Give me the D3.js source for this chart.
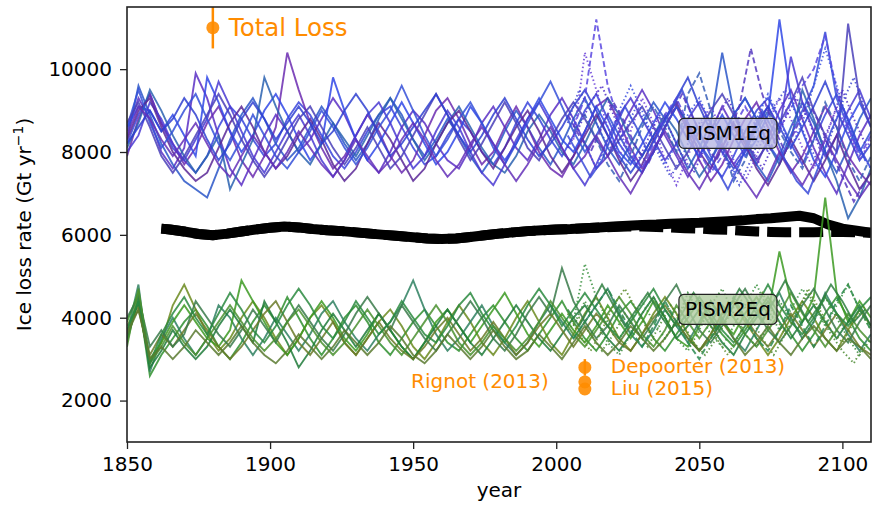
<!DOCTYPE html>
<html>
<head>
<meta charset="utf-8">
<script src="https://cdn.jsdelivr.net/npm/d3@7"></script>
<style>
  body { margin:0; background:#fff; }
  svg { display:block; font-family:"DejaVu Sans", sans-serif; }
</style>
</head>
<body>
<svg id="chart"></svg>
<script>
// ---------- DATA ---------------------------------------------------------
const YEARS = [1850,1854,1858,1862,1866,1870,1874,1878,1882,1886,1890,1894,1898,1902,1906,1910,1914,1918,1922,1926,
  1930,1934,1938,1942,1946,1950,1954,1958,1962,1966,1970,1974,1978,1982,1986,1990,1994,1998,2002,2006,
  2010,2014,2018,2022,2026,2030,2034,2038,2042,2046,2050,2054,2058,2062,2066,2070,2074,2078,2082,2086,
  2090,2094,2098,2102,2106,2110];
const LATE_YEARS = [2006,2010,2014,2018,2022,2026,2030,2034,2038,2042,2046,2050,2054,2058,2062,2066,2070,2074,
  2078,2082,2086,2090,2094,2098,2102,2106,2110];
const LATE_YEARS_B = [2004,2008,2012,2016,2020,2024,2028,2032,2036,2040,2044,2048,2052,2056,2060,2064,2068,2072,
  2076,2080,2084,2088,2092,2096,2100,2104,2108];

// PISM1Eq ensemble (Gt/yr)
const pism1_a = [8200,8900,9400,8700,8100,7800,7500,7900,8600,9100, 8800,8300,7900,8200,8800,9200,8900,8400,7900,7600,
  8000,8500,8900,9100,8600,8100,7700,7900,8400,8800, 8500,8000,7700,8100,8700,9200,8800,8300,7900,8400,
  9000,9400,8800,8200,7800,7500,8000,8600,9100,8700, 8200,7700,7400,7900,8500,9000,9300,8800,8200,7700, 8300,8900,9400,8800,8100,7600];
const pism1_b = [8500,9300,8800,8000,7600,8100,9900,9300,8400,7600, 7200,7800,8400,8900,8500,8000,8300,8800,9300,8900,
  8300,7800,7500,8000,8600,9000,8700,8200,7800,7600, 8100,8700,9100,8600,8100,7800,8300,8900,9300,8800,
  8200,7600,7900,8500,9000,9500,9000,8400,7900,7400, 7900,8500,9100,8600,8100,7700,8300,9000,9500,8800, 8100,7500,7000,7700,8400,8900];
const pism1_c = [8300,9600,8900,8200,7700,7300,7100,6900,7600,8300, 8900,9300,8800,8200,7800,8100,8600,9100,8700,8200,
  7800,8200,8800,9300,8900,8300,7900,8300,8800,8400, 7900,7500,7900,8500,9000,8600,8100,7700,8200,8800,
  9300,8700,8100,7700,8200,8700,9200,8800,8200,7600, 8100,8700,10400,9000,8300,7700,7300,7900,8600,9200, 8700,8000,7500,8100,8800,9300];
const pism1_d = [7900,8800,9400,8700,8200,7700,8100,8700,9100,8500, 7800,7400,7900,8600,10400,9500,8700,8100,7600,7900,
  8400,8900,8500,7900,7500,7800,8400,9000,9300,8800, 8200,7700,8000,8600,9100,8600,8000,7600,7400,7900,
  8500,9100,9300,8700,8100,7600,8000,8600,9100,8500, 7800,7300,7700,8300,8800,9200,8600,8000,7500,7900, 8500,9100,8600,7900,7500,7200];
const pism1_e = [8600,9100,9000,8500,8900,8400,7900,9800,9200,8500, 8000,8400,9000,9400,8900,8300,7800,8200,9800,9000,
  8300,7800,8200,8700,9200,8700,8200,7700,8000,8500, 9100,8700,8200,7800,8200,8800,9300,8800,8300,8000,
  8500,9100,8600,8000,7700,8200,8700,9200,8800,8300, 7900,8400,8900,8400,7900,8300,8900,11200,9300,8500, 7800,7400,8000,8700,9200,8600];
const pism1_f = [8100,8700,9500,9000,8400,7900,7500,7900,8400,7100, 7700,8300,9800,9100,8500,8000,7700,8200,8700,8300,
  7900,8400,8900,9300,8800,8300,7800,8200,8700,9100, 8600,8100,7700,7500,7900,8500,8900,8500,8000,7700,
  8200,8800,9300,8900,8300,7900,8400,8900,8500,7900, 7400,7800,8400,8900,9300,8800,8200,7700,8300,9500, 8800,8000,7300,6400,6900,7600];
const pism1_g = [8000,8400,9200,8800,8200,7800,8300,8800,9700,9100, 8500,7900,7500,8000,8500,8900,8400,7800,7400,7800,
  8400,8900,9200,8700,8100,7600,7900,8500,9000,8600, 8000,7500,7200,7700,8300,8800,9200,8700,8100,7600,
  7200,7700,8300,8900,9300,8800,8300,7800,8200,8800, 9200,8700,8100,7700,8100,8700,9100,8500,10300,9200, 8500,7900,8400,9000,9500,8800];
const pism1_h = [8300,9000,9300,8600,8000,7600,7300,7500,8100,8700, 9100,8600,8000,7600,7900,8400,8800,8300,7700,7300,
  7600,8200,8700,8300,7800,7300,7600,8200,8700,9000, 8500,8000,7600,8100,8600,9000,8500,7900,7500,7900,
  8400,8900,8400,7800,7300,7700,8300,8800,9200,8600, 8000,7600,8100,8700,8200,7600,7200,7700,8300,7800, 7300,7800,8400,7700,7100,7500];
const pism1_i = [8600,9500,8700,8100,8500,9000,9400,8800,8200,7800, 8300,8900,8400,7900,7600,8000,8500,9000,8600,8100,
  7700,8100,8600,9000,9600,9000,8400,7900,8300,8800, 9200,8700,8100,7700,8200,8700,9200,9700,9100,8500,
  8000,8400,8900,8400,7900,7500,8000,8600,9100,8700, 8200,7800,8300,8900,9300,8800,8200,7800,8400,9000, 9600,10900,9300,8600,8000,8500];
const pism1_j = [8700,9200,8600,7900,7500,7900,8400,8900,9400,8900, 8300,7800,7400,7800,8300,8800,9100,8600,8100,7700,
  8100,8600,8100,7600,7900,8400,8900,9400,8900,8300, 7800,8200,8700,9200,8700,8100,7800,8300,8800,9200,
  8800,8300,7900,8300,8700,9100,8600,8100,7600,8000, 8500,9000,9400,8900,8300,7800,8200,8700,9200,9800, 9000,8400,8000,11100,9300,8600];
const pism1_k = [8200,8600,9000,8500,8800,9300,8900,8300,7800,8200, 8800,9200,8800,8300,8700,9100,8700,8200,8500,9000,
  9400,9000,8400,7900,8200,8600,9000,9400,8900,8400, 8000,8400,8900,9300,8800,8300,7900,8200,8600,9100,
  9500,9000,8400,7900,7500,7900,8400,8800,9300,9800, 9100,8500,8000,7600,8000,8600,9100,8600,8100,8600, 9100,9700,9000,8400,7800,8200];
const pism1_l = [8400,9100,8800,8300,7900,8300,8700,8200,7700,7400, 7900,8400,8000,7600,8000,8500,8100,7700,7400,7800,
  8300,7900,7500,7800,8300,8700,8300,7800,7400,7700, 8200,8600,8200,7700,7300,7700,8200,8600,8100,7600,
  7900,8400,7900,7400,7000,7500,8100,8500,8000,7500, 7100,7600,8200,7700,7300,6900,7400,8000,7600,7200, 7700,8300,7800,7300,6900,7300];
// later members
const pism1_late_a = [8600,9300,11200,9600,8700,8000,7600,8200,8900,9300,8700,8000,7500,7900,8600,9100,8600,8000,8500,9200,9600,10000,10800,9500,8600,7900,8400];
const pism1_late_b = [8300,10400,9500,8600,7900,8500,9300,8700,7800,7200,7900,8600,9100,8500,7800,7300,7900,8700,9300,8800,8100,7600,8300,9100,8500,7800,8300];
const pism1_late_c = [8800,8200,7600,8300,9000,9600,9000,8300,7700,8200,8900,9300,8700,8000,7500,8100,8800,9400,8800,8100,8700,9600,10500,9600,8700,8000,7600];
const pism1_late_d = [8500,8900,8300,7700,7300,7900,8600,9100,8600,8000,9400,9900,9000,8200,7300,7800,8500,9000,8500,8000,7600,8300,9200,8600,7800,7300,7900];
const pism1_late_e = [8100,8600,9200,9600,8900,8200,7700,8300,8900,8500,7900,7500,8100,8800,9300,8700,8100,7600,8200,8800,9300,8800,8100,8700,9500,8800,8200];
const pism1_late_f = [8700,9500,9000,8400,8000,8500,9100,8600,7900,7400,7900,8500,8900,8300,7700,7200,7800,8500,9100,9500,8900,8200,7700,8400,9200,9800,9000];
const pism1_late_g = [8400,7900,7400,7800,8500,9100,8600,8000,8500,9000,9500,8800,8200,7600,7100,7700,8400,9000,8500,7800,7300,7000,7700,8500,9100,8400,7800];
const pism1_late_h = [8900,8400,8000,8600,9200,8700,8100,7700,8300,8900,9400,8800,8200,7800,8400,9100,10500,9400,8600,8000,8600,9200,8700,8000,7400,6800,7300];

// PISM2Eq ensemble (Gt/yr)
const pism2_a = [3400,4500,2600,3100,3500,3900,4200,3800,3300,3000, 3400,3900,4300,3900,4500,4000,3500,3100,3500,4000,
  4300,3900,3400,3100,3500,3900,4200,3800,3400,3200, 3600,4000,4300,3900,3500,3200,3600,4000,4400,3900,
  3500,3200,3600,4100,4400,4000,3500,3200,3600,4000, 4400,4000,3600,3300,3700,4100,4500,4100,3600,3200, 3600,4100,4500,4000,3500,3200];
const pism2_b = [3800,4300,2900,3400,4300,4800,4200,3600,3200,3500, 4000,4400,4000,3500,3100,3500,4000,4300,3900,3400,
  3100,3500,3900,4200,3800,3300,3000,3400,3900,4300, 3900,3400,3100,3500,4000,4400,3900,3400,3100,3600,
  4100,4500,4000,3500,3200,3600,4100,4500,4100,3600, 3200,3600,4100,4400,3900,3500,3100,3500,4000,4400, 4000,3500,3200,3700,4200,3800];
const pism2_c = [3600,4800,2700,3500,4000,3500,3100,3500,4300,4000, 3500,3100,3500,4000,3600,3200,3600,4100,4400,3900,
  3500,3200,3600,3900,4300,4900,4200,3600,3200,3500, 3900,4300,3800,3400,3100,3400,3900,4300,3900,3500,
  3900,4300,4700,4100,3600,3300,3700,4200,3800,3400, 3900,4400,4000,3500,3200,3700,4200,4600,4000,3500, 3900,4600,4100,3600,3200,3600];
const pism2_d = [3900,4600,3000,3400,3900,4300,3900,3500,3300,3700, 4900,4400,3900,3400,3100,3500,4000,4400,4000,3500,
  3200,3600,4100,3700,3300,3000,3400,3900,4200,3800, 3400,3800,4200,4600,4100,3600,3300,3700,4100,3700,
  3400,3800,4300,3900,3500,3900,4400,4000,3500,3300, 3800,4400,3900,3600,4100,4500,4100,5600,4400,3900, 4500,6900,4600,3900,4400,4000];
const pism2_e = [3500,4400,2800,3200,3700,3300,3000,3300,3800,4200, 3800,3400,4400,3900,3400,2800,3200,3700,4100,3700,
  3300,3700,4100,3700,3300,3000,3400,3800,4200,3800, 3400,3100,3500,3900,4300,3900,3500,3200,3600,4000,
  4300,3900,3500,3200,3600,4100,4500,4000,3500,3800, 4200,3800,3400,3100,3600,4000,4400,3900,3500,3900, 4300,3900,3500,3900,4300,3800];
const pism2_f = [3700,4200,3100,3600,3300,3700,4100,3700,3300,3000, 3300,3700,4100,4400,3900,3400,3100,3500,3900,3400,
  3100,3500,3900,3500,3200,3000,3300,3700,4000,3600, 3200,3500,3900,3500,3100,3400,3800,4100,3700,3300,
  3700,4100,3800,3400,3200,3600,4000,4300,3900,3500, 3200,3600,4100,4400,4000,3600,3300,3700,4100,3700, 3300,3700,4100,3700,3300,3100];
const pism2_g = [4000,4500,3300,3700,3300,3600,4400,4000,3600,3300, 3700,4200,3800,3400,3900,4300,3900,3500,3200,3600,
  4100,4500,4100,3700,4300,3900,3500,3200,3600,4000, 4400,4000,3500,3200,3600,4100,4500,4100,5200,4400,
  3900,3500,3800,4300,3900,3500,3900,4400,4800,4200, 3700,3400,3800,4300,4700,4200,3700,3400,3800,4300, 4700,4200,3700,3400,3900,4300];
const pism2_h = [3300,4700,2900,3300,3800,3400,3100,3500,3900,4300, 3900,3500,3200,3500,3900,4200,3800,3400,3100,3400,
  3800,4200,3800,3400,3100,3500,3900,4300,3900,3400, 3100,3400,3800,3500,3200,3500,3900,4400,4000,3600,
  3300,3700,4100,4500,4100,3600,3300,3700,4300,3900, 3500,3900,4300,4000,3600,3300,3700,4100,4600,4100, 3700,3300,3700,4100,3700,3400];
const pism2_i = [3700,4400,2900,3600,4100,4500,4000,3600,4100,4600, 4200,3700,3400,3800,4300,4700,4300,3800,3500,3900,
  4400,4000,3600,3900,4400,4000,3600,3400,3800,4300, 4600,4100,3700,3400,3800,4300,4700,4300,3800,4200,
  4600,4200,3800,3500,3900,4300,4700,4200,3800,4100, 4500,4100,3700,3400,3800,4300,4800,4300,3900,3600, 4000,4500,4100,3800,4200,4500];
const pism2_j = [3600,4200,3000,3300,3000,3300,3700,3400,3100,3400, 3800,3400,3100,2900,3200,3600,3300,3000,3300,3700,
  3400,3100,3400,3800,3500,3100,2900,3200,3600,3300, 3000,3300,3700,3300,3000,3200,3600,3300,3000,3400,
  3800,3400,3100,3400,3800,3500,3200,3500,3900,3500, 3200,3500,3900,3500,3100,3400,3800,3400,3100,3500, 3800,3500,3200,3500,3300,3000];
const pism2_late_a = [3800,4400,3900,3400,3100,3600,4100,4500,4000,3500,3200,3700,4300,4700,4100,3600,3300,3800,4400,4000,3500,3900,4500,4000,3500,3100,3500];
const pism2_late_b = [4100,3600,3200,3700,4300,4700,4200,3700,3300,3700,4200,4600,4100,3500,3100,3600,4200,4600,4100,3600,4100,4700,4200,3700,3400,3900,4300];
const pism2_late_c = [3500,3900,4300,4700,4200,3700,3300,3800,4400,3900,3400,3000,3500,4000,4500,4000,3500,3200,3700,4300,3800,3300,3800,4400,4800,4200,3700];
const pism2_late_d = [3900,5300,4500,3900,3500,3900,4400,3900,3500,3900,4600,4100,3600,3300,3800,4300,4800,4200,3700,4200,4700,4300,3800,4300,4800,4200,3700];
const pism2_late_e = [3700,4000,3600,3200,3600,4100,3700,3300,3800,4300,3900,3400,3100,3500,4000,4500,4000,3500,3100,3600,4100,4600,4100,3600,3200,2900,3400];
const pism2_late_f = [4200,3800,4300,4800,4300,3800,4200,4600,4100,3700,4100,4600,4200,3700,4200,4700,4300,3900,4400,4900,4400,3900,4300,4800,4400,3900,4200];

// smoothed reference lines (black)
const REF_YEARS = [1862,1865,1870,1875,1880,1885,1890,1895,1900,1905,1910,1915,1920,1925,1930,1935,1940,1945,1950,1955,
  1960,1965,1970,1975,1980,1985,1990,1995,2000,2005,2010,2015,2020,2025,2030,2035,2040,2045,2050,2055,
  2060,2065,2070,2075,2080,2085,2090,2095,2100,2105,2110];
const ref_solid = [6150,6130,6080,6020,5990,6030,6080,6130,6170,6200,6180,6140,6110,6090,6060,6030,6000,5970,5940,5910,
  5900,5910,5950,5990,6030,6060,6090,6110,6130,6140,6160,6180,6200,6220,6240,6250,6270,6280,6290,6310,
  6330,6350,6380,6400,6430,6460,6400,6250,6150,6100,6050];
const ref_dashed = [6150,6130,6080,6020,5990,6030,6080,6130,6170,6200,6180,6140,6110,6090,6060,6030,6000,5970,5940,5910,
  5900,5910,5950,5990,6030,6060,6090,6110,6130,6140,6160,6180,6190,6200,6200,6190,6180,6160,6150,6130,
  6120,6100,6080,6070,6060,6060,6060,6070,6070,6060,6050];

// observations
const OBS_NAMES  = ['Total Loss','Depoorter (2013)','Rignot (2013)','Liu (2015)'];
const OBS_YEARS  = [1880, 2010, 2010, 2010];
const OBS_VALUES = [11000, 2800, 2450, 2280];
const OBS_ERR    = [500, 200, 0, 0];

const X_TICKS = [1850,1900,1950,2000,2050,2100];
const Y_TICKS = [2000,4000,6000,8000,10000];

// ---------- LAYOUT -------------------------------------------------------
const W = 872, H = 508,
      M = {top:7, right:1, bottom:66, left:127},
      IW = W-M.left-M.right, IH = H-M.top-M.bottom;
const ORANGE = '#ff8c00';

const svg = d3.select('#chart').attr('width',W).attr('height',H);
const g = svg.append('g').attr('transform',`translate(${M.left},${M.top})`);

const x = d3.scaleLinear().domain([1850,2110]).range([0,IW]);
const y = d3.scaleLinear().domain([1000,11500]).range([IH,0]);

svg.append('defs').append('clipPath').attr('id','clip')
  .append('rect').attr('width',IW).attr('height',IH);
const plot = g.append('g').attr('clip-path','url(#clip)');

const line = d3.line().x(d=>x(d[0])).y(d=>y(d[1]));
const zipY = (yrs,vals)=>vals.map((v,i)=>[yrs[i],v]).filter(d=>d[0]!=null);

// black reference lines first
plot.append('path').attr('d',line(zipY(REF_YEARS,ref_dashed)))
  .attr('fill','none').attr('stroke','#000').attr('stroke-width',10).attr('stroke-dasharray','24,8');
plot.append('path').attr('d',line(zipY(REF_YEARS,ref_solid)))
  .attr('fill','none').attr('stroke','#000').attr('stroke-width',10).attr('stroke-linejoin','round');

// ensembles
const DOT = '1.5,2.5', DASH = '6,3';
const blueFull = [
  [pism1_a,'#3a44dc'],[pism1_b,'#5b2fc4'],[pism1_c,'#2a56c8'],[pism1_d,'#6b2bb0'],[pism1_e,'#3048e6'],[pism1_f,'#2a62b0'],
  [pism1_g,'#4a3ad2'],[pism1_h,'#5a2896'],[pism1_i,'#3550d8'],[pism1_j,'#4a3fb8'],[pism1_k,'#2f3fd0'],[pism1_l,'#6430b8']];
const blueLate = [
  [pism1_late_a,'#5a48e0',DASH,LATE_YEARS],[pism1_late_b,'#6a40d8',DOT,LATE_YEARS],[pism1_late_c,'#3a50e0',DOT,LATE_YEARS],
  [pism1_late_d,'#3a60b8',DASH,LATE_YEARS],[pism1_late_e,'#5030c8',DOT,LATE_YEARS_B],[pism1_late_f,'#4048d0',DOT,LATE_YEARS_B],
  [pism1_late_g,'#3a4ad8',null,LATE_YEARS_B],[pism1_late_h,'#5538c0',DASH,LATE_YEARS_B]];
const greenFull = [
  [pism2_a,'#2f8f2f'],[pism2_b,'#6b8a1e'],[pism2_c,'#2e8060'],[pism2_d,'#3c9a22'],[pism2_e,'#1f7a3a'],
  [pism2_f,'#6a7a28'],[pism2_g,'#3a7a4a'],[pism2_h,'#4a9030'],[pism2_i,'#2a8a40'],[pism2_j,'#5a7a30']];
const greenLate = [
  [pism2_late_a,'#3a8a3a',DOT,LATE_YEARS],[pism2_late_b,'#5a8a28',DOT,LATE_YEARS_B],[pism2_late_c,'#2a8a50',DASH,LATE_YEARS],
  [pism2_late_d,'#3a9040',DOT,LATE_YEARS],[pism2_late_e,'#4a8a30',DOT,LATE_YEARS_B],[pism2_late_f,'#2f7f3f',null,LATE_YEARS_B]];

function drawSet(set){
  set.forEach(([vals,col,dash,yrs])=>{
    plot.append('path').attr('d',line(zipY(yrs||YEARS,vals)))
      .attr('fill','none').attr('stroke',col).attr('stroke-width',1.9)
      .attr('stroke-opacity',0.85).attr('stroke-dasharray',dash||null);
  });
}
drawSet(blueFull);
drawSet(blueLate);
drawSet(greenFull);
drawSet(greenLate);

// ensemble labels
function labelBox(txt, yr, val, fill){
  const t = g.append('text').attr('x',x(yr)).attr('y',y(val)).attr('dy','0.35em')
    .attr('text-anchor','middle').attr('font-size',20).attr('fill','#000').text(txt);
  const bb = t.node().getBBox();
  g.insert('rect', function(){ return t.node(); })
    .attr('x',bb.x-6).attr('y',bb.y-3).attr('width',bb.width+12).attr('height',bb.height+6)
    .attr('rx',5).attr('fill',fill).attr('fill-opacity',0.8).attr('stroke','#222').attr('stroke-width',1.2);
}
labelBox('PISM1Eq', 2060, 8450, '#b8b8e4');
labelBox('PISM2Eq', 2060, 4200, '#b0cca0');

// observations
OBS_NAMES.forEach((n,i)=>{
  const cx = x(OBS_YEARS[i]), cy = y(OBS_VALUES[i]);
  if(OBS_ERR[i]) g.append('line').attr('x1',cx).attr('x2',cx)
      .attr('y1',y(OBS_VALUES[i]+OBS_ERR[i])).attr('y2',y(OBS_VALUES[i]-OBS_ERR[i]))
      .attr('stroke',ORANGE).attr('stroke-width',2.5);
  g.append('circle').attr('cx',cx).attr('cy',cy).attr('r',6.5).attr('fill',ORANGE).attr('fill-opacity',0.9);
});
g.append('text').attr('x',x(1880)+16).attr('y',y(11000)+8).attr('font-size',24.5).attr('fill',ORANGE).text(OBS_NAMES[0]);
g.append('text').attr('x',x(2010)+26).attr('y',y(2800)+6).attr('font-size',20).attr('fill',ORANGE).text(OBS_NAMES[1]);
g.append('text').attr('x',x(2010)-36).attr('y',y(2450)+6).attr('text-anchor','end').attr('font-size',20).attr('fill',ORANGE).text(OBS_NAMES[2]);
g.append('text').attr('x',x(2010)+26).attr('y',y(2280)+6).attr('font-size',20).attr('fill',ORANGE).text(OBS_NAMES[3]);

// axes
const xAxis = g.append('g').attr('transform',`translate(0,${IH})`)
  .call(d3.axisBottom(x).tickValues(X_TICKS).tickFormat(d3.format('d')).tickSize(7).tickPadding(8));
const yAxis = g.append('g')
  .call(d3.axisLeft(y).tickValues(Y_TICKS).tickFormat(d3.format('d')).tickSize(7).tickPadding(8));
[xAxis,yAxis].forEach(a=>{
  a.select('.domain').remove();
  a.selectAll('line').attr('stroke','#222').attr('stroke-width',1.3);
  a.selectAll('text').attr('font-size',20).attr('fill','#000').attr('font-family','DejaVu Sans');
});
// spines
g.append('rect').attr('x',0).attr('y',0).attr('width',IW).attr('height',IH)
  .attr('fill','none').attr('stroke','#222').attr('stroke-width',1.6);

g.append('text').attr('x',IW/2).attr('y',IH+55).attr('text-anchor','middle')
  .attr('font-size',20).attr('fill','#000').text('year');
const yl = g.append('text').attr('transform',`translate(${-96},${IH/2}) rotate(-90)`)
  .attr('text-anchor','middle').attr('font-size',20).attr('fill','#000');
yl.append('tspan').text('Ice loss rate (Gt yr');
yl.append('tspan').attr('font-size',14).attr('dy',-8).text('−1');
yl.append('tspan').attr('dy',8).text(')');
</script>
</body>
</html>
